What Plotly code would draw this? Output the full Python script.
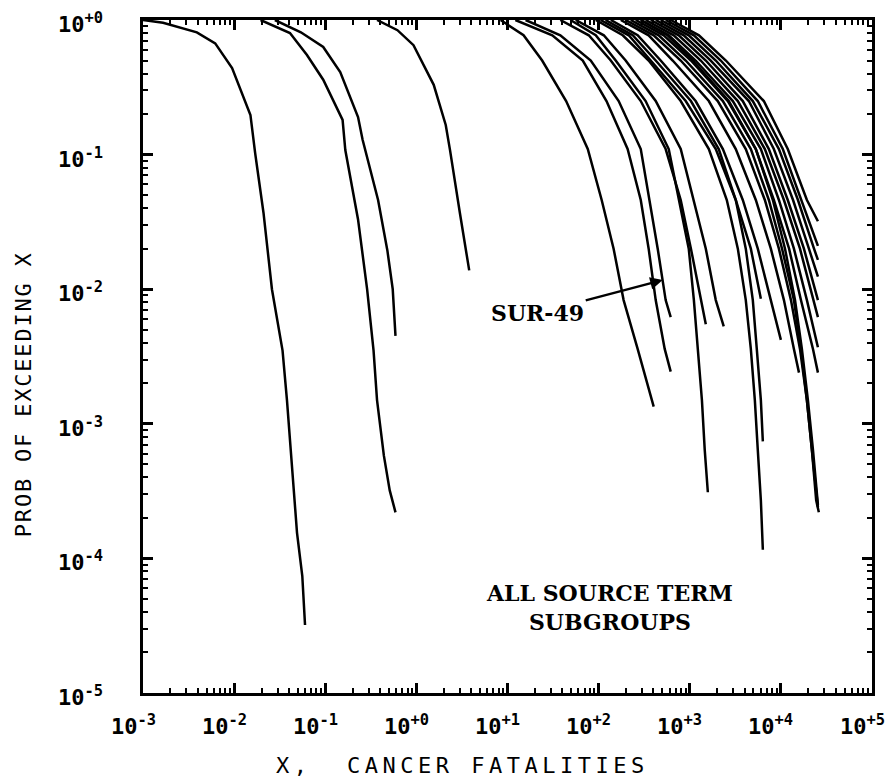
import math
import plotly.graph_objects as go

# ---- Complementary cumulative distributions: P(fatalities > X) ----
# Groups at the low end of the scale
A_x = [0.001, 0.00166, 0.0039, 0.0062, 0.0095, 0.0151, 0.017, 0.021, 0.026, 0.034, 0.038, 0.044, 0.049, 0.056, 0.060]
A_p = [1.0, 0.955, 0.81, 0.67, 0.44, 0.197, 0.103, 0.037, 0.010, 0.0035, 0.0015, 4.1e-4, 1.55e-4, 7.4e-5, 3.2e-5]

B_x = [0.0195, 0.041, 0.063, 0.095, 0.155, 0.166, 0.229, 0.288, 0.339, 0.37, 0.44, 0.51, 0.59]
B_p = [1.0, 0.80, 0.55, 0.36, 0.181, 0.108, 0.033, 0.010, 0.0035, 0.0015, 5.8e-4, 3.2e-4, 2.2e-4]

C_x = [0.028, 0.054, 0.095, 0.146, 0.229, 0.257, 0.38, 0.48, 0.55, 0.59]
C_p = [1.0, 0.81, 0.63, 0.41, 0.19, 0.129, 0.046, 0.0195, 0.010, 0.0045]

D_x = [0.37, 0.62, 0.93, 1.55, 2.1, 2.34, 3.0, 3.8]
D_p = [1.0, 0.84, 0.65, 0.33, 0.166, 0.108, 0.037, 0.0138]

# Source term subgroups in the upper range
E_x = [8.4, 15, 24, 44, 76, 108, 146, 188, 268, 402]
E_p = [1.0, 0.77, 0.50, 0.25, 0.11, 0.046, 0.020, 0.0083, 0.0036, 0.00134]

F_x = [12.2, 31, 67, 122, 208, 290, 354, 423, 531, 618]
F_p = [1.0, 0.77, 0.50, 0.25, 0.11, 0.046, 0.020, 0.0083, 0.0036, 0.00244]

# SUR-49
G_x = [15.8, 38, 82, 166, 290, 363, 445, 544, 618]
G_p = [1.0, 0.77, 0.50, 0.25, 0.11, 0.046, 0.020, 0.0083, 0.0062]

H_x = [38, 78, 136, 290, 544, 796, 1030, 1320, 1500]
H_p = [1.0, 0.77, 0.50, 0.25, 0.11, 0.046, 0.020, 0.0083, 0.0055]

I_x = [56, 114, 198, 423, 796, 1110, 1500, 1930, 2360]
I_p = [1.0, 0.77, 0.50, 0.25, 0.11, 0.046, 0.020, 0.0083, 0.0053]

N_x = [49, 93, 154, 328, 588, 757, 975, 1110, 1220, 1360, 1460, 1580]
N_p = [1.0, 0.77, 0.50, 0.25, 0.11, 0.046, 0.020, 0.0083, 0.0036, 0.0015, 0.00064, 0.00031]

J_x = [105, 214, 373, 903, 1930, 3200, 4680, 6030]
J_p = [1.0, 0.77, 0.50, 0.25, 0.11, 0.046, 0.020, 0.0085]

K_x = [136, 268, 480, 1160, 2310, 3820, 5580, 7760, 10000]
K_p = [1.0, 0.77, 0.50, 0.25, 0.11, 0.046, 0.020, 0.0083, 0.0042]

L_x = [175, 354, 650, 1620, 3200, 5310, 7760, 10800, 13900, 15800]
L_p = [1.0, 0.77, 0.50, 0.25, 0.11, 0.046, 0.020, 0.0083, 0.0036, 0.0024]

O_x = [119, 237, 423, 1030, 2080, 3200, 4120, 4920, 5440, 6030, 6340]
O_p = [1.0, 0.77, 0.50, 0.25, 0.11, 0.046, 0.020, 0.0083, 0.0036, 0.0015, 0.00074]

P_x = [93, 184, 354, 796, 1620, 2550, 3370, 4120, 4680, 5180, 5580, 6030, 6340]
P_p = [1.0, 0.77, 0.50, 0.25, 0.11, 0.046, 0.020, 0.0083, 0.0036, 0.0015, 0.00064, 0.00027, 0.000116]

M1_x = [618, 1260, 2490, 6500, 11900, 19300, 25500]
M1_p = [1.0, 0.77, 0.50, 0.25, 0.11, 0.046, 0.032]

M2_x = [544, 1110, 2190, 5580, 10500, 16600, 25500]
M2_p = [1.0, 0.77, 0.50, 0.25, 0.11, 0.046, 0.021]

M3_x = [480, 975, 1930, 4920, 9510, 15400, 23100, 25500]
M3_p = [1.0, 0.77, 0.50, 0.25, 0.11, 0.046, 0.020, 0.0165]

M4_x = [423, 859, 1700, 4450, 8370, 13600, 20300, 25500]
M4_p = [1.0, 0.77, 0.50, 0.25, 0.11, 0.046, 0.020, 0.0124]

M5_x = [373, 757, 1500, 3820, 7380, 11900, 17900, 25500]
M5_p = [1.0, 0.77, 0.50, 0.25, 0.11, 0.046, 0.020, 0.0083]

M6_x = [328, 667, 1320, 3370, 6670, 10800, 16200, 22500, 25500]
M6_p = [1.0, 0.77, 0.50, 0.25, 0.11, 0.046, 0.020, 0.0083, 0.0062]

M7_x = [290, 588, 1160, 2970, 6030, 9510, 13900, 19300, 25500]
M7_p = [1.0, 0.77, 0.50, 0.25, 0.11, 0.046, 0.020, 0.0083, 0.0037]

M8_x = [255, 518, 1030, 2620, 5310, 8370, 12300, 16600, 22500, 25500]
M8_p = [1.0, 0.77, 0.50, 0.25, 0.11, 0.046, 0.020, 0.0083, 0.0036, 0.0024]

Q1_x = [225, 456, 903, 2310, 4680, 7380, 10300, 13900, 16600, 19300, 21900, 24900, 25500]
Q1_p = [1.0, 0.77, 0.50, 0.25, 0.11, 0.046, 0.020, 0.0083, 0.0036, 0.0015, 0.00064, 0.00027, 0.00024]

Q2_x = [290, 573, 1080, 2680, 5310, 8170, 11100, 14300, 17000, 19800, 22500, 24900, 25500]
Q2_p = [1.0, 0.77, 0.50, 0.25, 0.11, 0.046, 0.020, 0.0083, 0.0036, 0.0015, 0.00064, 0.00027, 0.00025]

Q3_x = [198, 402, 796, 2030, 4120, 6670, 9510, 12900, 16200, 19300, 21900, 24400, 26100]
Q3_p = [1.0, 0.77, 0.50, 0.25, 0.11, 0.046, 0.020, 0.0083, 0.0036, 0.0015, 0.00064, 0.00027, 0.00022]

CURVES = [
    (A_x, A_p), (B_x, B_p), (C_x, C_p), (D_x, D_p),
    (E_x, E_p), (F_x, F_p), (G_x, G_p), (H_x, H_p), (I_x, I_p), (N_x, N_p),
    (J_x, J_p), (K_x, K_p), (L_x, L_p), (O_x, O_p), (P_x, P_p),
    (M1_x, M1_p), (M2_x, M2_p), (M3_x, M3_p), (M4_x, M4_p),
    (M5_x, M5_p), (M6_x, M6_p), (M7_x, M7_p), (M8_x, M8_p),
    (Q1_x, Q1_p), (Q2_x, Q2_p), (Q3_x, Q3_p),
]

# Arrow target on the SUR-49 curve
SUR49_TIP = (505, 0.0117)

X_TICKS = [1e-3, 1e-2, 1e-1, 1e0, 1e1, 1e2, 1e3, 1e4, 1e5]
X_TICK_TEXT = ["10<sup>-3</sup>", "10<sup>-2</sup>", "10<sup>-1</sup>", "10<sup>+0</sup>",
               "10<sup>+1</sup>", "10<sup>+2</sup>", "10<sup>+3</sup>", "10<sup>+4</sup>",
               "10<sup>+5</sup>"]
Y_TICKS = [1e-5, 1e-4, 1e-3, 1e-2, 1e-1, 1e0]
Y_TICK_TEXT = ["10<sup>-5</sup>", "10<sup>-4</sup>", "10<sup>-3</sup>", "10<sup>-2</sup>",
               "10<sup>-1</sup>", "10<sup>+0</sup>"]

# Intermediate (2..9 x 10^k) tick positions for the log frame
X_MINOR = [m * 10.0 ** k for k in range(-3, 5) for m in range(2, 10)]
Y_MINOR = [m * 10.0 ** k for k in range(-5, 0) for m in range(2, 10)]

fig = go.Figure()
for xs, ps in CURVES:
    fig.add_trace(go.Scatter(x=xs, y=ps, mode="lines",
                             line=dict(color="black", width=2.5),
                             showlegend=False, hoverinfo="skip"))

TICK_FONT = dict(family="DejaVu Sans Mono", size=22, color="black", weight="bold")
TITLE_FONT = dict(family="DejaVu Sans Mono", size=22, color="black")
NOTE_FONT = dict(family="DejaVu Serif", size=22, color="black", weight="bold")


def minor_ticks(vals):
    return dict(tickmode="array", tickvals=vals, ticks="inside", ticklen=5,
                tickwidth=2, tickcolor="black")


# Frame with inward ticks on all four sides; labels are placed as annotations
axis_common = dict(
    type="log", showline=True, linecolor="black", linewidth=2.5, mirror="allticks",
    ticks="inside", ticklen=10, tickwidth=2.5, tickcolor="black",
    showgrid=False, zeroline=False, tickmode="array", showticklabels=False,
)
fig.update_xaxes(**axis_common, range=[-3, 5], tickvals=X_TICKS, minor=minor_ticks(X_MINOR))
fig.update_yaxes(**axis_common, range=[-5, 0], tickvals=Y_TICKS, minor=minor_ticks(Y_MINOR))

annotations = []
for v, t in zip(X_TICKS, X_TICK_TEXT):
    annotations.append(dict(text=t, x=math.log10(v), y=0, xref="x", yref="paper",
                            xanchor="center", yanchor="top", xshift=-10, yshift=-16,
                            showarrow=False, font=TICK_FONT))
for v, t in zip(Y_TICKS, Y_TICK_TEXT):
    annotations.append(dict(text=t, x=0, y=math.log10(v), xref="paper", yref="y",
                            xanchor="right", yanchor="middle", xshift=-38, yshift=-3,
                            showarrow=False, font=TICK_FONT))

annotations += [
    dict(text='<span style="letter-spacing:4.5px">X,  CANCER FATALITIES</span>',
         xref="paper", yref="paper", x=0.4376, y=-0.107,
         xanchor="center", yanchor="middle", showarrow=False, font=TITLE_FONT),
    dict(text='<span style="letter-spacing:1.8px">PROB OF EXCEEDING X</span>',
         xref="paper", yref="paper", x=-0.1646, y=0.444, textangle=-90,
         xanchor="center", yanchor="middle", showarrow=False, font=TITLE_FONT),
    dict(text="ALL SOURCE TERM<br>SUBGROUPS",
         xref="paper", yref="paper", x=0.6406, y=0.127,
         xanchor="center", yanchor="middle", showarrow=False, font=NOTE_FONT),
    dict(text="SUR-49", x=math.log10(SUR49_TIP[0]), y=math.log10(SUR49_TIP[1]),
         xref="x", yref="y", ax=-125, ay=33, showarrow=True,
         arrowhead=2, arrowsize=1, arrowwidth=2.5, arrowcolor="black",
         font=NOTE_FONT),
]

fig.update_layout(
    width=891, height=783,
    margin=dict(l=143, r=19, t=20, b=90),
    paper_bgcolor="white", plot_bgcolor="white",
    annotations=annotations,
    showlegend=False,
)

fig.write_html("out.html")
